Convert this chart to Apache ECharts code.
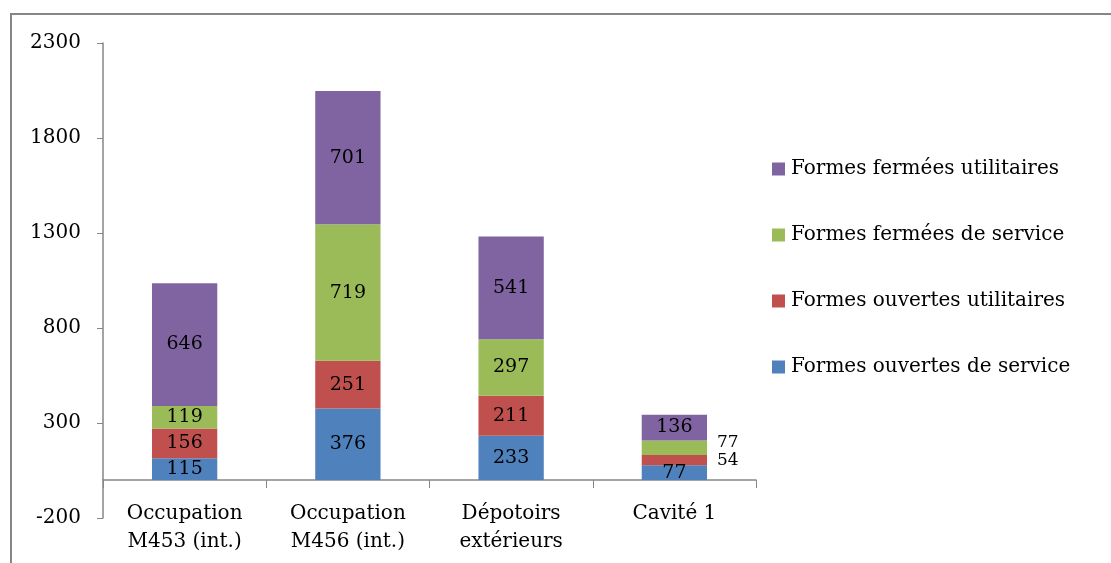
<!DOCTYPE html>
<html>
<head>
<meta charset="utf-8">
<script src="https://cdn.jsdelivr.net/npm/echarts@6/dist/echarts.min.js"></script>
<style>
  html, body { margin: 0; padding: 0; background: #fff; }
  #chart { width: 1111px; height: 563px; }
</style>
</head>
<body>
<div id="chart"></div>
<script>
// Sites (category axis)
const categories = ['Occupation\nM453 (int.)', 'Occupation\nM456 (int.)', 'Dépotoirs\nextérieurs', 'Cavité 1'];

// Counts per form type, stacked bottom to top
const ouvertesService = [115, 376, 233, 77];
const ouvertesUtilitaires = [156, 251, 211, 54];
const fermeesService = [119, 719, 297, 77];
const fermeesUtilitaires = [646, 701, 541, 136];

// Value axis ticks
const yMin = -200, yMax = 2300, yStep = 500;

const seriesDefs = [
  { name: 'Formes ouvertes de service', data: ouvertesService, color: '#4F81BD' },
  { name: 'Formes ouvertes utilitaires', data: ouvertesUtilitaires, color: '#C0504D' },
  { name: 'Formes fermées de service', data: fermeesService, color: '#9BBB59' },
  { name: 'Formes fermées utilitaires', data: fermeesUtilitaires, color: '#8064A2' }
];

// Thin segments whose label sits to the right of the bar: [series index, category index, dy]
const sideLabels = [[1, 3, 0], [2, 3, -5]];

const FONT = 'DejaVu Serif';

const series = seriesDefs.map((s, si) => ({
  name: s.name,
  type: 'bar',
  stack: 'total',
  barWidth: '40%',
  itemStyle: { color: s.color },
  label: {
    show: true,
    position: 'inside',
    color: '#000',
    fontFamily: FONT,
    fontSize: 19
  },
  data: s.data.map((v, ci) => {
    const side = sideLabels.find(p => p[0] === si && p[1] === ci);
    if (side) {
      return { value: v, label: { position: 'right', distance: 10, offset: [0, side[2]], fontSize: 17 } };
    }
    return v;
  })
}));

const chart = echarts.init(document.getElementById('chart'), null, { renderer: 'canvas' });
chart.setOption({
  animation: false,
  backgroundColor: '#fff',
  graphic: [{
    type: 'rect',
    shape: { x: 11, y: 14, width: 1112, height: 560 },
    style: { fill: 'none', stroke: '#868686', lineWidth: 2 },
    silent: true
  }],
  grid: { left: 103, right: 355, top: 43, bottom: 45, containLabel: false, outerBoundsMode: 'none' },
  legend: {
    orient: 'vertical',
    left: 772,
    top: 159,
    padding: 0,
    itemWidth: 13,
    itemHeight: 13,
    itemGap: 46,
    icon: 'rect',
    data: seriesDefs.map(s => s.name).reverse(),
    textStyle: { fontFamily: FONT, fontSize: 20, lineHeight: 20, color: '#000', padding: [0, 0, 0, 1] }
  },
  xAxis: {
    type: 'category',
    data: categories,
    axisLine: { onZero: true, lineStyle: { color: '#868686', width: 1.5 } },
    axisTick: { show: true, length: 8, lineStyle: { color: '#868686' } },
    axisLabel: { color: '#000', fontFamily: FONT, fontSize: 20, lineHeight: 28, margin: -18 }
  },
  yAxis: {
    type: 'value',
    min: yMin,
    max: yMax,
    interval: yStep,
    splitLine: { show: false },
    axisLine: { show: true, lineStyle: { color: '#868686', width: 1.5 } },
    axisTick: { show: true, length: 6, lineStyle: { color: '#868686' } },
    axisLabel: { color: '#000', fontFamily: FONT, fontSize: 20, margin: 22, formatter: v => String(v) }
  },
  series: series
});
</script>
</body>
</html>
